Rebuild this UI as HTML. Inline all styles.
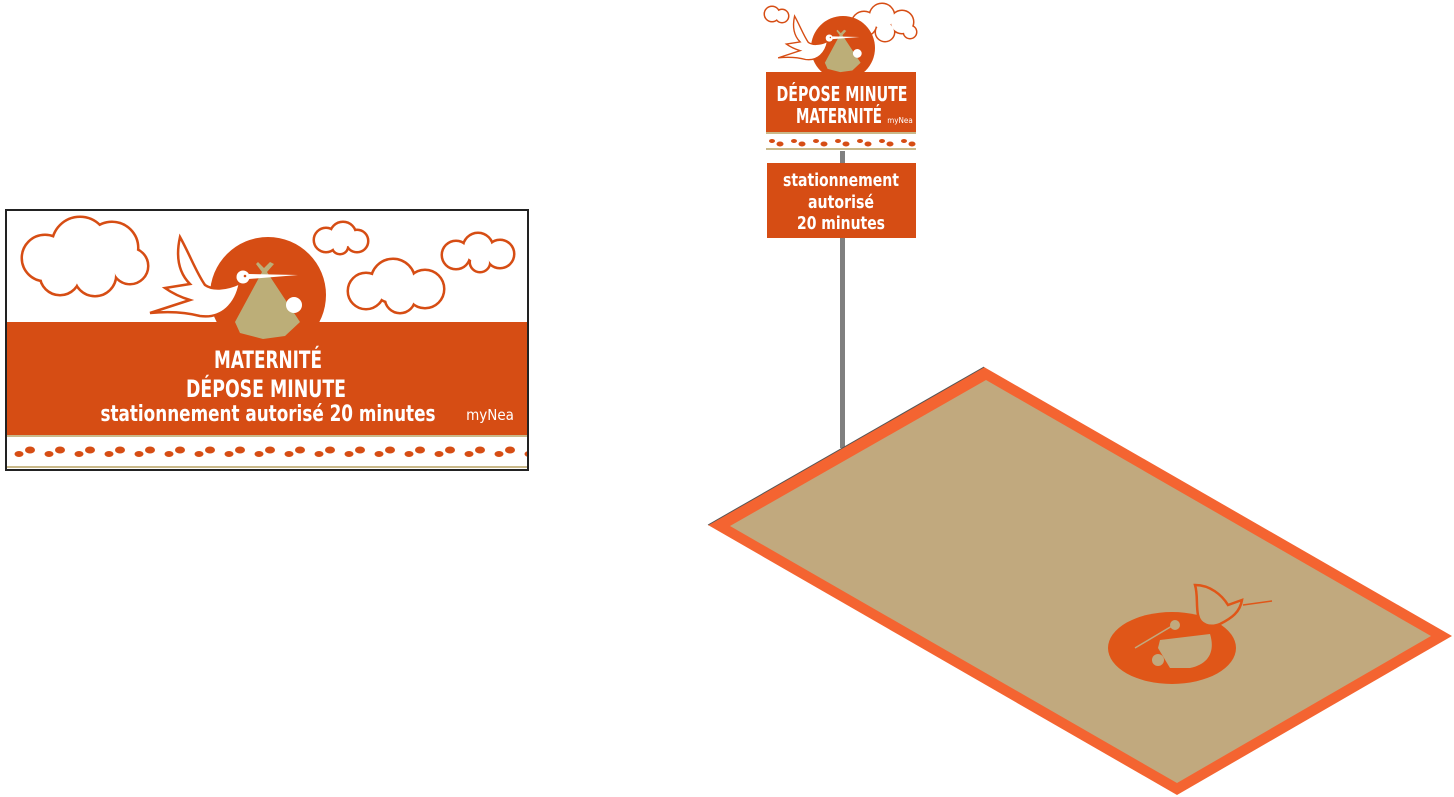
<!DOCTYPE html>
<html><head><meta charset="utf-8"><style>
html,body{margin:0;padding:0;background:#fff;width:1454px;height:797px;overflow:hidden}
svg{display:block}
text{font-family:"DejaVu Sans Condensed","Liberation Sans Narrow","Liberation Sans",sans-serif;fill:#fff;font-weight:bold}
</style></head><body>
<svg width="1454" height="797" viewBox="0 0 1454 797" xmlns="http://www.w3.org/2000/svg">
<defs>
<pattern id="fp" x="14" y="440" width="30" height="24" patternUnits="userSpaceOnUse">
  <ellipse cx="5" cy="14" rx="4.5" ry="3" fill="#d64d14"/>
  <ellipse cx="16" cy="10" rx="5" ry="3.5" fill="#d64d14"/>
</pattern>
<pattern id="fp2" x="768" y="135" width="22" height="14" patternUnits="userSpaceOnUse">
  <ellipse cx="4" cy="6" rx="3" ry="2" fill="#d64d14"/>
  <ellipse cx="12" cy="9" rx="3.5" ry="2.5" fill="#d64d14"/>
</pattern>
<g id="stork">
  <path d="M180,237 C176,255 178,272 190,284 L165,288 C172,293 180,297 190,300 L150,313 C170,311 185,312 200,316 C222,319 236,304 240,283 C225,290 212,290 205,285 C196,272 190,255 180,237 Z" fill="#fff" stroke="#d64d14" stroke-width="2.5"/>
  <circle cx="243" cy="277" r="6.5" fill="#fff"/>
  <circle cx="245" cy="276" r="1.3" fill="#d64d14"/>
  <polygon points="249,274 298,275 249,279" fill="#fff"/>
</g>
<g id="bag">
  <polygon points="258,262 264,268 270,262 274,264 267,272 300,322 285,336 263,339 240,333 235,322 262,272 256,264" fill="#bcae78"/>
  <circle cx="294" cy="305" r="8" fill="#fff"/>
</g>
</defs>

<!-- LEFT SIGN -->
<rect x="6" y="210" width="522" height="260" fill="#fff" stroke="#222" stroke-width="2"/>
<g stroke="#d64d14" stroke-width="5">
 <circle cx="45" cy="258" r="22"/><circle cx="80" cy="245" r="27"/><circle cx="112" cy="248" r="25"/><circle cx="130" cy="266" r="17"/><circle cx="95" cy="275" r="20"/><circle cx="60" cy="275" r="19"/>
 <circle cx="326" cy="240" r="11"/><circle cx="343" cy="235" r="12"/><circle cx="357" cy="241" r="10"/><circle cx="340" cy="246" r="7"/>
 <circle cx="366" cy="291" r="17"/><circle cx="393" cy="281" r="21"/><circle cx="425" cy="289" r="18"/><circle cx="400" cy="298" r="14"/>
 <circle cx="456" cy="255" r="13"/><circle cx="478" cy="248" r="14"/><circle cx="500" cy="254" r="13"/><circle cx="480" cy="262" r="9"/>
</g>
<g fill="#fff">
 <circle cx="45" cy="258" r="22"/><circle cx="80" cy="245" r="27"/><circle cx="112" cy="248" r="25"/><circle cx="130" cy="266" r="17"/><circle cx="95" cy="275" r="20"/><circle cx="60" cy="275" r="19"/>
 <circle cx="326" cy="240" r="11"/><circle cx="343" cy="235" r="12"/><circle cx="357" cy="241" r="10"/><circle cx="340" cy="246" r="7"/>
 <circle cx="366" cy="291" r="17"/><circle cx="393" cy="281" r="21"/><circle cx="425" cy="289" r="18"/><circle cx="400" cy="298" r="14"/>
 <circle cx="456" cy="255" r="13"/><circle cx="478" cy="248" r="14"/><circle cx="500" cy="254" r="13"/><circle cx="480" cy="262" r="9"/>
</g>
<circle cx="268" cy="295" r="58" fill="#d64d14"/>
<rect x="7" y="322" width="520" height="113" fill="#d64d14"/>
<use href="#bag"/>
<use href="#stork"/>
<rect x="7" y="435" width="520" height="2" fill="#c9b98a"/>
<rect x="7" y="437" width="520" height="30" fill="url(#fp)"/>
<rect x="7" y="466" width="520" height="2" fill="#c9b98a"/>
<text x="268" y="368" font-size="24" text-anchor="middle" textLength="108" lengthAdjust="spacingAndGlyphs">MATERNITÉ</text>
<text x="266" y="397" font-size="24" text-anchor="middle" textLength="160" lengthAdjust="spacingAndGlyphs">DÉPOSE MINUTE</text>
<text x="268" y="421" font-size="22" text-anchor="middle" textLength="335" lengthAdjust="spacingAndGlyphs">stationnement autorisé 20 minutes</text>
<text x="490" y="420" font-size="15" text-anchor="middle" style="font-weight:normal">myNea</text>

<!-- POLE -->
<rect x="840" y="150" width="5" height="298" fill="#808080"/>

<!-- TOP SIGN -->
<rect x="766" y="3" width="150" height="148" fill="#fff"/>
<g stroke="#d64d14" stroke-width="3">
 <circle cx="772" cy="14" r="7"/><circle cx="782" cy="16" r="6"/>
 <circle cx="864" cy="24" r="12"/><circle cx="882" cy="16" r="12"/><circle cx="902" cy="22" r="11"/><circle cx="885" cy="32" r="9"/><circle cx="910" cy="32" r="6"/>
</g>
<g fill="#fff">
 <circle cx="772" cy="14" r="7"/><circle cx="782" cy="16" r="6"/>
 <circle cx="864" cy="24" r="12"/><circle cx="882" cy="16" r="12"/><circle cx="902" cy="22" r="11"/><circle cx="885" cy="32" r="9"/><circle cx="910" cy="32" r="6"/>
</g>
<circle cx="843" cy="48" r="32" fill="#d64d14"/>
<rect x="766" y="72" width="150" height="60" fill="#d64d14"/>
<g transform="translate(695.6,-114.3) scale(0.55)"><use href="#bag"/><use href="#stork"/></g>
<rect x="766" y="132" width="150" height="2" fill="#c9b98a"/>
<rect x="766" y="134" width="150" height="14" fill="url(#fp2)"/>
<rect x="766" y="148" width="150" height="2" fill="#c9b98a"/>
<text x="842" y="101" font-size="20" text-anchor="middle" textLength="131" lengthAdjust="spacingAndGlyphs">DÉPOSE MINUTE</text>
<text x="839" y="123" font-size="20" text-anchor="middle" textLength="86" lengthAdjust="spacingAndGlyphs">MATERNITÉ</text>
<text x="900" y="123" font-size="8" text-anchor="middle" style="font-weight:normal">myNea</text>

<rect x="767" y="163" width="149" height="75" fill="#d64d14"/>
<text x="841" y="186" font-size="18" text-anchor="middle" textLength="116" lengthAdjust="spacingAndGlyphs">stationnement</text>
<text x="841" y="208" font-size="18" text-anchor="middle" textLength="66" lengthAdjust="spacingAndGlyphs">autorisé</text>
<text x="841" y="229" font-size="18" text-anchor="middle" textLength="88" lengthAdjust="spacingAndGlyphs">20 minutes</text>

<!-- FLOOR -->
<polygon points="984,367 708,525 1177,795 1452,636" fill="#f46431"/>
<polyline points="708,525 984,367" fill="none" stroke="#555" stroke-width="1"/>
<polygon points="986,380 730,526 1177,783 1431,636" fill="#c1a97e"/>
<ellipse cx="1172" cy="648" rx="64" ry="36" fill="#e05618"/>
<path d="M1160,640 L1210,634 C1215,650 1210,664 1190,668 L1170,668 L1158,648 Z" fill="#c1a97e"/>
<circle cx="1158" cy="660" r="6" fill="#c1a97e"/>
<circle cx="1175" cy="625" r="5" fill="#c1a97e"/>
<path d="M1135,648 L1172,626" stroke="#c1a97e" stroke-width="1.5"/>
<path d="M1195,585 C1210,585 1222,595 1228,605 L1242,600 C1240,612 1232,618 1220,624 C1210,628 1200,625 1198,615 C1196,605 1198,595 1195,585 Z" fill="#c1a97e" stroke="#e05618" stroke-width="2.5"/>
<path d="M1243,605 L1272,601" stroke="#e05618" stroke-width="1.5"/>
</svg>
</body></html>
